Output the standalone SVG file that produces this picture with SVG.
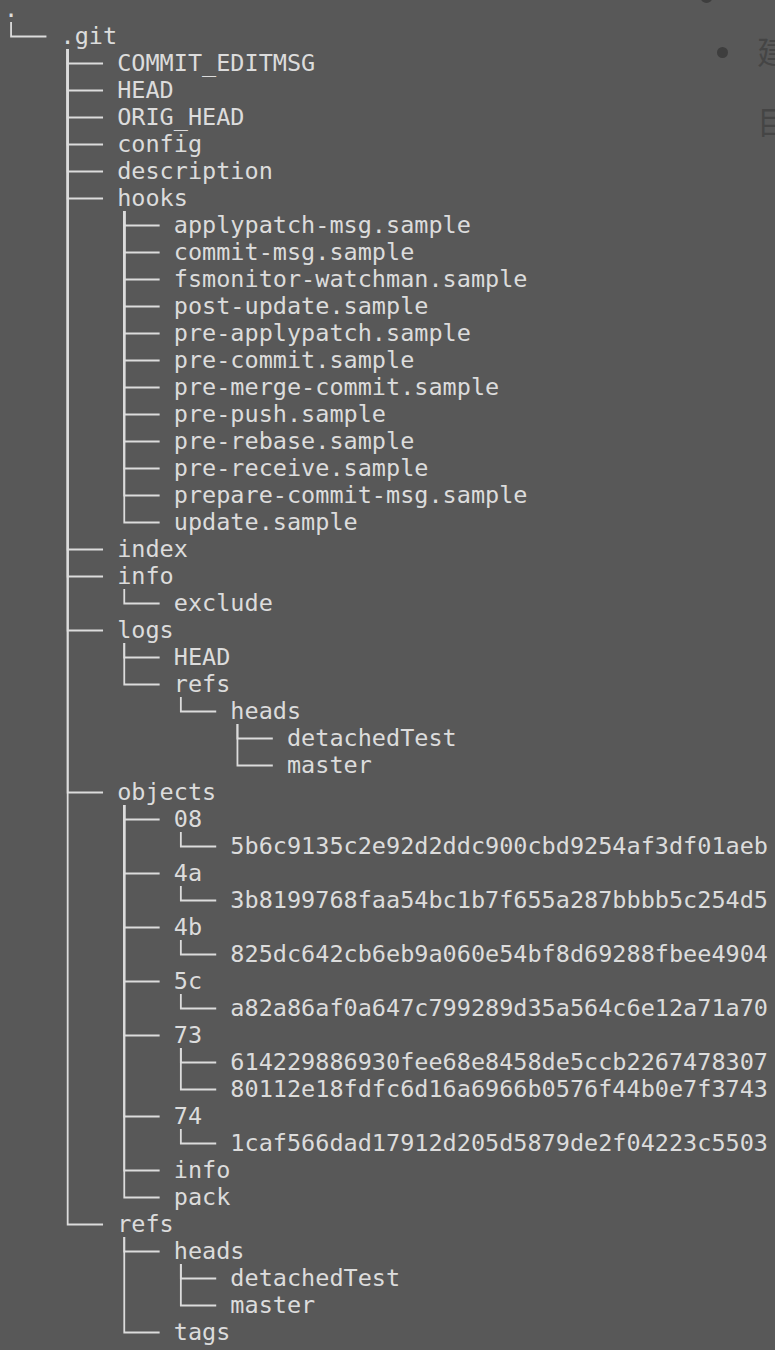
<svg xmlns="http://www.w3.org/2000/svg" width="775" height="1350" viewBox="0 0 775 1350">
<style>
text.t{font-family:"DejaVu Sans Mono","Liberation Mono",monospace;font-size:23.5px;fill:#dcdcdc}
text.bg{font-family:"Noto Sans CJK SC","Noto Sans",sans-serif;font-size:32px;fill:#454545}
.c path{fill:none;stroke:#dcdcdc;stroke-width:1.8}
</style>
<rect x="0" y="0" width="775" height="1350" fill="#585858"/>
<g id="backdrop">
<circle cx="706.5" cy="-3" r="6" fill="#3e3e3e"/>
<circle cx="722.5" cy="52.5" r="5.5" fill="#3e3e3e"/>
<text class="bg" x="757" y="64">建</text>
<text class="bg" x="757" y="134">目</text>
</g>
<g id="connectors" class="c">
<path d="M11.07 22V36.5H46.44"/>
<!-- .git children (x=67.67) -->
<path d="M67.67 49V63.5H103.04"/>
<path d="M67.67 49V90.5H103.04"/>
<path d="M67.67 49V117.5H103.04"/>
<path d="M67.67 49V144.5H103.04"/>
<path d="M67.67 49V171.5H103.04"/>
<path d="M67.67 49V198.5H103.04"/>
<path d="M67.67 49V549.5H103.04"/>
<path d="M67.67 49V576.5H103.04"/>
<path d="M67.67 49V630.5H103.04"/>
<path d="M67.67 49V792.5H103.04"/>
<path d="M67.67 49V1224.5H103.04"/>
<!-- hooks children -->
<path d="M124.26 211V225.5H159.63"/>
<path d="M124.26 211V252.5H159.63"/>
<path d="M124.26 211V279.5H159.63"/>
<path d="M124.26 211V306.5H159.63"/>
<path d="M124.26 211V333.5H159.63"/>
<path d="M124.26 211V360.5H159.63"/>
<path d="M124.26 211V387.5H159.63"/>
<path d="M124.26 211V414.5H159.63"/>
<path d="M124.26 211V441.5H159.63"/>
<path d="M124.26 211V468.5H159.63"/>
<path d="M124.26 211V495.5H159.63"/>
<path d="M124.26 211V522.5H159.63"/>
<!-- info -->
<path d="M124.26 589V603.5H159.63"/>
<!-- logs -->
<path d="M124.26 643V657.5H159.63"/>
<path d="M124.26 643V684.5H159.63"/>
<path d="M180.85 697V711.5H216.22"/>
<path d="M237.44 724V738.5H272.81"/>
<path d="M237.44 724V765.5H272.81"/>
<!-- objects -->
<path d="M124.26 805V819.5H159.63"/>
<path d="M124.26 805V873.5H159.63"/>
<path d="M124.26 805V927.5H159.63"/>
<path d="M124.26 805V981.5H159.63"/>
<path d="M124.26 805V1035.5H159.63"/>
<path d="M124.26 805V1116.5H159.63"/>
<path d="M124.26 805V1170.5H159.63"/>
<path d="M124.26 805V1197.5H159.63"/>
<path d="M180.85 832V846.5H216.22"/>
<path d="M180.85 886V900.5H216.22"/>
<path d="M180.85 940V954.5H216.22"/>
<path d="M180.85 994V1008.5H216.22"/>
<path d="M180.85 1048V1062.5H216.22"/>
<path d="M180.85 1048V1089.5H216.22"/>
<path d="M180.85 1129V1143.5H216.22"/>
<!-- refs -->
<path d="M124.26 1237V1251.5H159.63"/>
<path d="M124.26 1237V1332.5H159.63"/>
<path d="M180.85 1264V1278.5H216.22"/>
<path d="M180.85 1264V1305.5H216.22"/>
</g>
<g id="n-root"><text class="t" x="4" y="17">.</text></g>
<g id="n-git"><text class="t" x="60.59" y="44">.git</text></g>
<g id="n-commit-editmsg"><text class="t" x="117.18" y="71">COMMIT_EDITMSG</text></g>
<g id="n-head"><text class="t" x="117.18" y="98">HEAD</text></g>
<g id="n-orig-head"><text class="t" x="117.18" y="125">ORIG_HEAD</text></g>
<g id="n-config"><text class="t" x="117.18" y="152">config</text></g>
<g id="n-description"><text class="t" x="117.18" y="179">description</text></g>
<g id="n-hooks"><text class="t" x="117.18" y="206">hooks</text></g>
<g id="n-h1"><text class="t" x="173.78" y="233">applypatch-msg.sample</text></g>
<g id="n-h2"><text class="t" x="173.78" y="260">commit-msg.sample</text></g>
<g id="n-h3"><text class="t" x="173.78" y="287">fsmonitor-watchman.sample</text></g>
<g id="n-h4"><text class="t" x="173.78" y="314">post-update.sample</text></g>
<g id="n-h5"><text class="t" x="173.78" y="341">pre-applypatch.sample</text></g>
<g id="n-h6"><text class="t" x="173.78" y="368">pre-commit.sample</text></g>
<g id="n-h7"><text class="t" x="173.78" y="395">pre-merge-commit.sample</text></g>
<g id="n-h8"><text class="t" x="173.78" y="422">pre-push.sample</text></g>
<g id="n-h9"><text class="t" x="173.78" y="449">pre-rebase.sample</text></g>
<g id="n-h10"><text class="t" x="173.78" y="476">pre-receive.sample</text></g>
<g id="n-h11"><text class="t" x="173.78" y="503">prepare-commit-msg.sample</text></g>
<g id="n-h12"><text class="t" x="173.78" y="530">update.sample</text></g>
<g id="n-index"><text class="t" x="117.18" y="557">index</text></g>
<g id="n-info"><text class="t" x="117.18" y="584">info</text></g>
<g id="n-exclude"><text class="t" x="173.78" y="611">exclude</text></g>
<g id="n-logs"><text class="t" x="117.18" y="638">logs</text></g>
<g id="n-logs-head"><text class="t" x="173.78" y="665">HEAD</text></g>
<g id="n-logs-refs"><text class="t" x="173.78" y="692">refs</text></g>
<g id="n-logs-heads"><text class="t" x="230.37" y="719">heads</text></g>
<g id="n-logs-detached"><text class="t" x="286.96" y="746">detachedTest</text></g>
<g id="n-logs-master"><text class="t" x="286.96" y="773">master</text></g>
<g id="n-objects"><text class="t" x="117.18" y="800">objects</text></g>
<g id="n-o08"><text class="t" x="173.78" y="827">08</text></g>
<g id="n-o08a"><text class="t" x="230.37" y="854">5b6c9135c2e92d2ddc900cbd9254af3df01aeb</text></g>
<g id="n-o4a"><text class="t" x="173.78" y="881">4a</text></g>
<g id="n-o4aa"><text class="t" x="230.37" y="908">3b8199768faa54bc1b7f655a287bbbb5c254d5</text></g>
<g id="n-o4b"><text class="t" x="173.78" y="935">4b</text></g>
<g id="n-o4ba"><text class="t" x="230.37" y="962">825dc642cb6eb9a060e54bf8d69288fbee4904</text></g>
<g id="n-o5c"><text class="t" x="173.78" y="989">5c</text></g>
<g id="n-o5ca"><text class="t" x="230.37" y="1016">a82a86af0a647c799289d35a564c6e12a71a70</text></g>
<g id="n-o73"><text class="t" x="173.78" y="1043">73</text></g>
<g id="n-o73a"><text class="t" x="230.37" y="1070">614229886930fee68e8458de5ccb2267478307</text></g>
<g id="n-o73b"><text class="t" x="230.37" y="1097">80112e18fdfc6d16a6966b0576f44b0e7f3743</text></g>
<g id="n-o74"><text class="t" x="173.78" y="1124">74</text></g>
<g id="n-o74a"><text class="t" x="230.37" y="1151">1caf566dad17912d205d5879de2f04223c5503</text></g>
<g id="n-oinfo"><text class="t" x="173.78" y="1178">info</text></g>
<g id="n-opack"><text class="t" x="173.78" y="1205">pack</text></g>
<g id="n-refs"><text class="t" x="117.18" y="1232">refs</text></g>
<g id="n-refs-heads"><text class="t" x="173.78" y="1259">heads</text></g>
<g id="n-refs-detached"><text class="t" x="230.37" y="1286">detachedTest</text></g>
<g id="n-refs-master"><text class="t" x="230.37" y="1313">master</text></g>
<g id="n-tags"><text class="t" x="173.78" y="1340">tags</text></g>
</svg>
